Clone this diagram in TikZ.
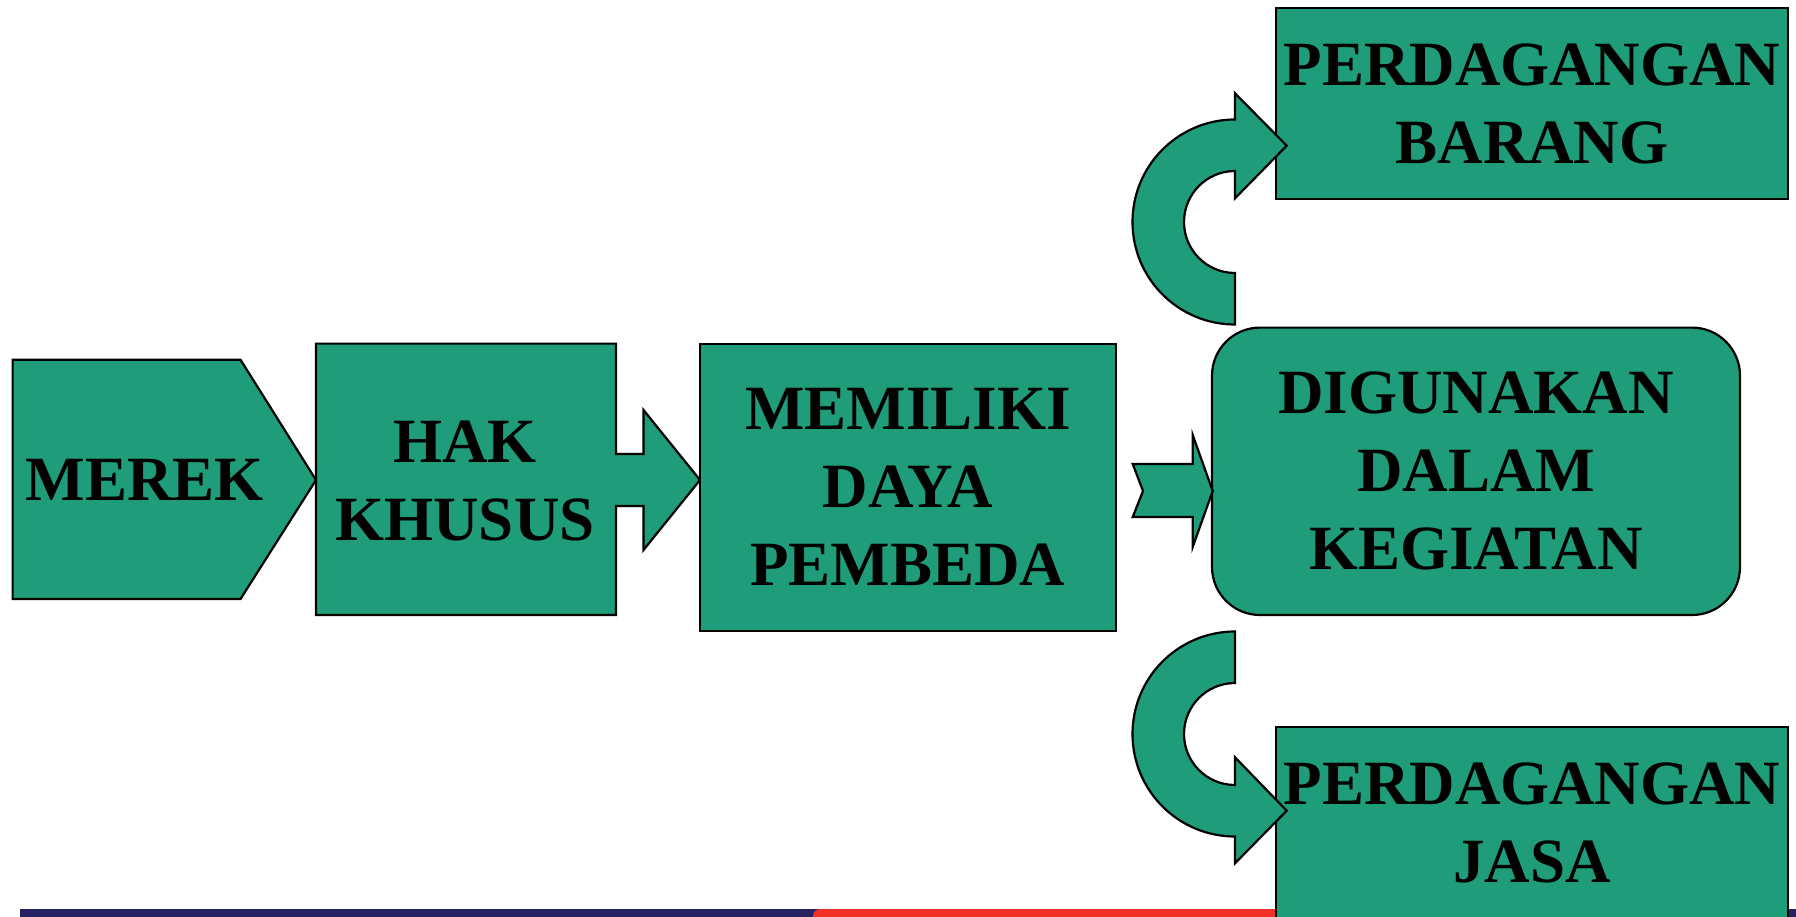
\documentclass[tikz,border=0pt]{standalone}
\usepackage{fontspec}
\setmainfont{Liberation Serif}
\usetikzlibrary{positioning}
\definecolor{hijau}{RGB}{31,156,122}
\definecolor{biru}{RGB}{38,34,98}
\definecolor{merah}{RGB}{240,48,38}

\begin{document}
\begin{tikzpicture}[%
	x=1pt, y=1pt,            % one unit is one pixel of the slide
	every node/.style={font=\bfseries\fontsize{63}{78}\selectfont},
	]
	% -------------------------------------------------
	% Box and arrow styles
	\tikzset{
		bentuk/.style={draw=black, line width=2.2pt, fill=hijau, line join=miter},
		kotak/.style={bentuk, rectangle, align=center, inner sep=0pt},
		teks/.style={align=center, inner sep=0pt},
	}
	\useasboundingbox (0,0) rectangle (1796,-917);

	% strip along the bottom of the slide
	\fill[biru] (20,-909) rectangle (1796,-917);
	\fill[merah, rounded corners=7pt] (813,-909) rectangle (1720,-930);

	% MEREK (pentagon) and HAK KHUSUS (box with arrow)
	\draw[bentuk] (12.6,-359.7) -- (240.5,-359.7) -- (316,-480)
		-- (240.5,-599) -- (12.6,-599) -- cycle;
	\node[teks] (merek) at (145,-480) {MEREK};

	\draw[bentuk] (316,-343.6) -- (616,-343.6) -- (616,-454) -- (643.5,-454)
		-- (643.5,-410) -- (700,-480) -- (643.5,-550) -- (643.5,-506)
		-- (616,-506) -- (616,-615) -- (316,-615) -- cycle;
	\node[teks] (hak) at (465,-481) {HAK\\KHUSUS};

	\node[kotak, minimum width=415.6pt, minimum height=287.4pt] (memiliki)
		at (907.8,-487.3) {MEMILIKI\\DAYA\\PEMBEDA};
	\node[kotak, rounded corners=48pt, minimum width=528pt, minimum height=287.4pt]
		(digunakan) at (1476,-471.3) {DIGUNAKAN\\DALAM\\KEGIATAN};
	\node[kotak, minimum width=512pt, minimum height=191.3pt] (barang)
		at (1532,-103.65) {PERDAGANGAN\\BARANG};
	\node[kotak, minimum width=512pt, minimum height=191.3pt] (jasa)
		at (1532,-822.65) {PERDAGANGAN\\JASA};

	% small arrow between the middle boxes
	\draw[bentuk] (1132.7,-464) -- (1192.7,-464) -- (1192.7,-435) -- (1212.7,-491)
		-- (1192.7,-547) -- (1192.7,-517) -- (1132.7,-517) -- (1143,-491) -- cycle;

	% curved arrows up and down
	\draw[bentuk] (1235,-324.5) arc[start angle=-90, end angle=-270, radius=102.5pt]
		-- (1235,-93.3) -- (1286.7,-145.7) -- (1235,-198.3) -- (1235,-171)
		arc[start angle=90, end angle=270, radius=51pt] -- cycle;
	\draw[bentuk] (1235,-631.5) -- (1235,-683)
		arc[start angle=90, end angle=270, radius=51pt]
		-- (1235,-757.3) -- (1286.7,-810.7) -- (1235,-863.3) -- (1235,-836.5)
		arc[start angle=-90, end angle=-270, radius=102.5pt] -- cycle;
\end{tikzpicture}
\end{document}
